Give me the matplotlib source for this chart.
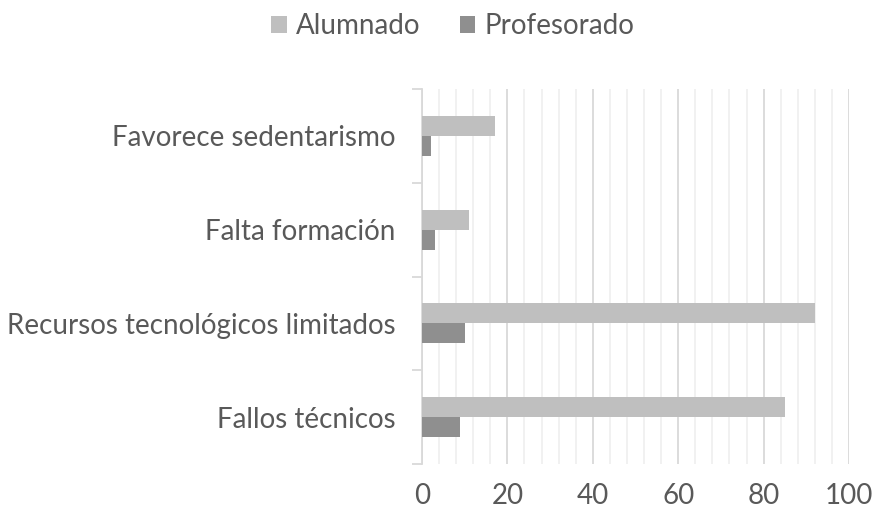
import numpy as np
import matplotlib.pyplot as plt
from matplotlib.ticker import MultipleLocator, FixedLocator

plt.rcParams['font.family'] = ['Lato', 'DejaVu Sans']

categorias = ['Fallos técnicos', 'Recursos tecnológicos limitados', 'Falta formación', 'Favorece sedentarismo']
alumnado = [85, 92, 11, 17]
profesorado = [9, 10, 3, 2]

txt = '#595959'
fig = plt.figure(figsize=(8.74, 5.13), dpi=100)
ax = fig.add_axes([422/874, 1-464/513, 427/874, 375/513])

y = np.arange(len(categorias))
h = 0.213
ax.barh(y + h/2, alumnado, height=h, color='#bfbfbf', label='Alumnado', zorder=3)
ax.barh(y - h/2, profesorado, height=h, color='#8f8f8f', label='Profesorado', zorder=3)

ax.set_xlim(0, 100)
ax.set_ylim(-0.5, len(categorias) - 0.5)
ax.xaxis.set_major_locator(MultipleLocator(20))
ax.xaxis.set_minor_locator(MultipleLocator(4))
ax.grid(axis='x', which='major', color='#d9d9d9', lw=1.3, zorder=0)
ax.grid(axis='x', which='minor', color='#f0f0f0', lw=1.3, zorder=0)
ax.tick_params(axis='x', which='both', length=0, labelsize=20, colors=txt, pad=14)

ax.set_yticks(y)
ax.set_yticklabels(categorias)
ax.yaxis.set_minor_locator(FixedLocator(np.arange(-0.5, len(categorias), 1)))
ax.tick_params(axis='y', which='major', length=0, labelsize=20, colors=txt, pad=19)
ax.tick_params(axis='y', which='minor', length=7, width=1.3, color='#d9d9d9')

for s in ['top', 'right', 'bottom']:
    ax.spines[s].set_visible(False)
ax.spines['left'].set_color('#d9d9d9')
ax.spines['left'].set_linewidth(1.3)

fig.legend(loc='center', bbox_to_anchor=(453/874, 1-26/513), ncol=2, frameon=False,
           fontsize=20, labelcolor=txt, handlelength=0.55, handleheight=0.55,
           handletextpad=0.35, columnspacing=1.4)

fig.savefig('out.png', dpi=100)
